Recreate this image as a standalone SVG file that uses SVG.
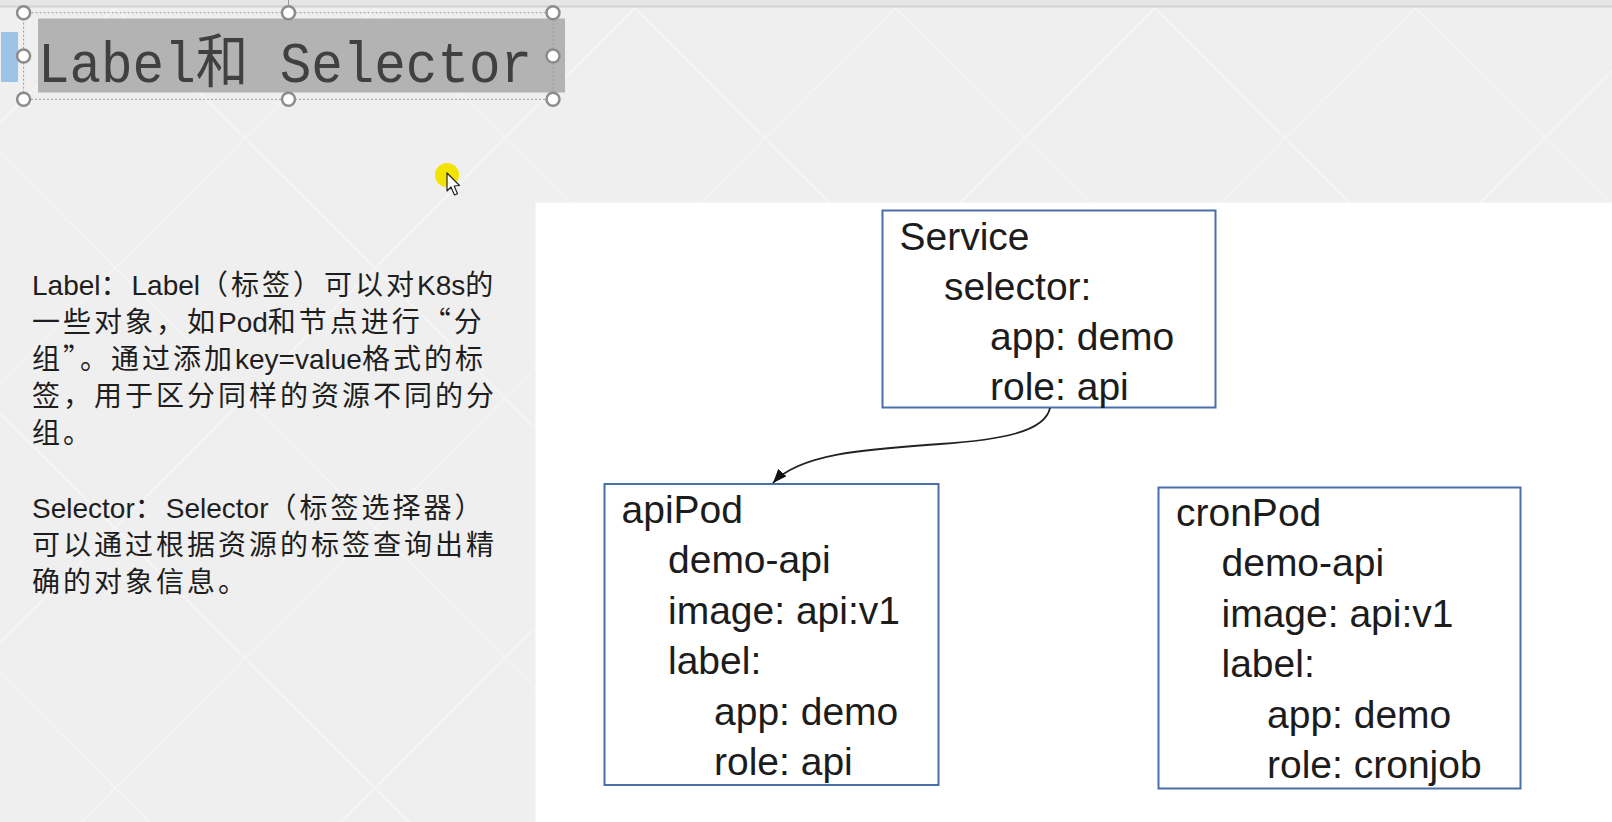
<svg xmlns="http://www.w3.org/2000/svg" width="1612" height="822" viewBox="0 0 1612 822">
<style>
.box{fill:#ffffff;stroke:#4a6ea8;stroke-width:2}
.bt{font-family:"Liberation Sans","Noto Sans",sans-serif;font-size:39px;fill:#1c1c1c}
.lt{font-family:"Noto Sans CJK SC","Liberation Sans",sans-serif;font-size:28px;letter-spacing:3px;fill:#1e1e1e}
.la{font-family:"Liberation Sans","Noto Sans CJK SC",sans-serif;font-size:28px;letter-spacing:0px}
.handle{fill:#ffffff;stroke:#8c8c8c;stroke-width:2.5}
.diag{stroke:#f7f7f7;stroke-width:1.2;fill:none}
</style>
<defs>
<marker id="arr" markerUnits="userSpaceOnUse" markerWidth="16" markerHeight="12" refX="14" refY="5.5" orient="auto">
<path d="M0,0 L14,5.5 L0,11 z" fill="#111111"/>
</marker>
</defs>
<!-- background -->
<rect x="0" y="0" width="1612" height="822" fill="#efefef"/>
<path class="diag" d="M123,0 L-777,900 M383,0 L-517,900 M643,0 L-257,900 M903,0 L3,900 M1163,0 L263,900 M1423,0 L523,900 M1683,0 L783,900 M1943,0 L1043,900 M2203,0 L1303,900 M2463,0 L1563,900 M-933,0 L-33,900 M-673,0 L227,900 M-413,0 L487,900 M-153,0 L747,900 M107,0 L1007,900 M367,0 L1267,900 M627,0 L1527,900 M887,0 L1787,900 M1147,0 L2047,900 M1407,0 L2307,900"/>
<rect x="0" y="0" width="1612" height="6" fill="#e6e6e6"/>
<line x1="0" y1="6.5" x2="1612" y2="6.5" stroke="#d2d2d2" stroke-width="2"/>
<!-- title with selection -->
<g id="title">
<rect x="1" y="32" width="17" height="50" fill="#9dc3e6"/>
<rect x="38" y="18.5" width="527" height="74" fill="#b3b3b3"/>
<rect x="23.6" y="12.7" width="529.4" height="86.6" fill="none" stroke="#9a9a9a" stroke-width="1" stroke-dasharray="2,2"/>
<line x1="288.5" y1="0" x2="288.5" y2="12" stroke="#9a9a9a" stroke-width="1"/>
<text x="38" y="82" font-family="'Liberation Mono','Noto Sans CJK SC',monospace" font-size="58" fill="#404040" textLength="494" lengthAdjust="spacingAndGlyphs">Label和 Selector</text>
<circle class="handle" cx="23.6" cy="12.7" r="6.5"/>
<circle class="handle" cx="288.5" cy="12.7" r="6.5"/>
<circle class="handle" cx="553" cy="12.7" r="6.5"/>
<circle class="handle" cx="23.6" cy="56" r="6.5"/>
<circle class="handle" cx="553" cy="56" r="6.5"/>
<circle class="handle" cx="23.6" cy="99.3" r="6.5"/>
<circle class="handle" cx="288.5" cy="99.3" r="6.5"/>
<circle class="handle" cx="553" cy="99.3" r="6.5"/>
</g>
<!-- cursor -->
<g id="cursor">
<circle cx="447" cy="175" r="12" fill="#f2e400"/>
<path d="M447,173 L447,191 L451,187 L454.5,195 L457.5,193.8 L454.2,186 L459.5,185.5 Z" fill="#ffffff" stroke="#222222" stroke-width="1.2" stroke-linejoin="round"/>
</g>
<!-- left description -->
<g id="desc">
<text class="lt" x="32" y="295"><tspan class="la">Label</tspan>：<tspan class="la">Label</tspan>（标签）可以对<tspan class="la">K8s</tspan>的</text>
<text class="lt" x="32" y="332">一些对象，如<tspan class="la">Pod</tspan>和节点进行“分</text>
<text class="lt" x="32" y="369">组”。通过添加<tspan class="la">key=value</tspan>格式的标</text>
<text class="lt" x="32" y="406">签，用于区分同样的资源不同的分</text>
<text class="lt" x="32" y="443">组。</text>
<text class="lt" x="32" y="518"><tspan class="la">Selector</tspan>：<tspan class="la">Selector</tspan>（标签选择器）</text>
<text class="lt" x="32" y="555">可以通过根据资源的标签查询出精</text>
<text class="lt" x="32" y="592">确的对象信息。</text>
</g>
<!-- white panel -->
<rect x="535.5" y="202.5" width="1077" height="620" fill="#ffffff"/>
<g id="service">
<rect class="box" x="882.5" y="210.5" width="333" height="197"/>
<text class="bt" x="899.5" y="249.5">Service</text>
<text class="bt" x="944" y="299.5">selector:</text>
<text class="bt" x="990" y="349.5">app: demo</text>
<text class="bt" x="990" y="399.5">role: api</text>
</g>
<g id="apiPod">
<rect class="box" x="604.5" y="484" width="334" height="301"/>
<text class="bt" x="621.5" y="522.5">apiPod</text>
<text class="bt" x="668" y="573">demo-api</text>
<text class="bt" x="668" y="623.5">image: api:v1</text>
<text class="bt" x="668" y="674">label:</text>
<text class="bt" x="714" y="724.5">app: demo</text>
<text class="bt" x="714" y="775">role: api</text>
</g>
<g id="cronPod">
<rect class="box" x="1158.5" y="487.5" width="362" height="301"/>
<text class="bt" x="1176" y="525.5">cronPod</text>
<text class="bt" x="1221.5" y="576">demo-api</text>
<text class="bt" x="1221.5" y="626.5">image: api:v1</text>
<text class="bt" x="1221.5" y="677">label:</text>
<text class="bt" x="1267" y="727.5">app: demo</text>
<text class="bt" x="1267" y="778">role: cronjob</text>
</g>
<g id="connectors">
<path d="M1050,408 C1045,432 1000,440 940,444 C870,449 800,453 773,483" fill="none" stroke="#222222" stroke-width="1.8" marker-end="url(#arr)"/>
</g>
</svg>
